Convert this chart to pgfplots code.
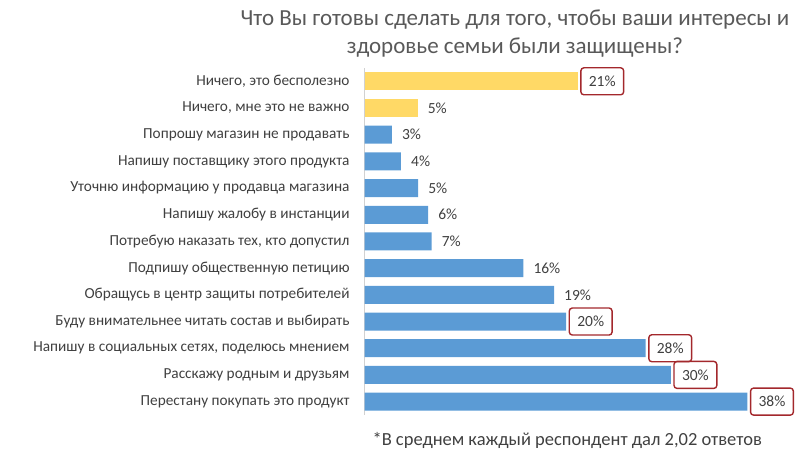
\documentclass[border=0pt]{standalone}
\usepackage{pgfplots}
\pgfplotsset{compat=1.18}
\usepackage{fontspec}
\setmainfont{Carlito}
\definecolor{barY}{HTML}{FFD966}
\definecolor{barB}{HTML}{5B9BD5}
\definecolor{boxR}{HTML}{A3282C}
\definecolor{txt}{HTML}{404040}
\definecolor{ttl}{HTML}{595959}
\begin{document}
\begin{tikzpicture}
\path[use as bounding box] (0pt,0pt) rectangle (800pt,456pt);
\node[ttl, align=center, font=\fontsize{23}{28}\selectfont] at (515pt,422pt) {Что Вы готовы сделать для того, чтобы ваши интересы и\\здоровье семьи были защищены?};
\node[txt, anchor=west, font=\fontsize{18.5}{22}\selectfont] at (369pt,16pt) {*В среднем каждый респондент дал 2,02 ответов};
\begin{axis}[
  at={(364.7pt,54.4pt)}, anchor=origin,
  scale only axis, width=433pt, height=347pt,
  xmin=0, xmax=43, ymin=-0.5, ymax=12.5,
  clip=false,
  xbar, bar width=18pt,
  axis x line=none, axis y line=left,
  axis line style={-, draw=black!18, line width=0.8pt},
  major tick length=0pt,
  ytick={0,...,12},
  yticklabels={Перестану покупать это продукт, Расскажу родным и друзьям, {Напишу в социальных сетях, поделюсь мнением}, Буду внимательнее читать состав и выбирать, Обращусь в центр защиты потребителей, Подпишу общественную петицию, {Потребую наказать тех, кто допустил}, Напишу жалобу в инстанции, Уточню информацию у продавца магазина, Напишу поставщику этого продукта, Попрошу магазин не продавать, {Ничего, мне это не важно}, {Ничего, это бесполезно}},
  yticklabel style={txt, font=\fontsize{15.3}{18}\selectfont, anchor=east, inner xsep=0pt, xshift=-15pt},
  point meta=explicit symbolic,
  nodes near coords,
  every node near coord/.append style={txt, font=\fontsize{15.5}{18}\selectfont, anchor=west},
  plain/.style={nodes near coords style={inner xsep=0pt, xshift=10pt}},
  boxed/.style={nodes near coords style={draw=boxR, line width=1.4pt, rounded corners=3pt, inner xsep=8pt, minimum height=27pt, xshift=2.5pt}},
]
\addplot[fill=barY, draw=none, bar shift=0pt, boxed] coordinates {(21.15,12) [21\%]};
\addplot[fill=barY, draw=none, bar shift=0pt, plain] coordinates {(5.25,11) [5\%]};
\addplot[fill=barB, draw=none, bar shift=0pt, plain] coordinates {
  (2.7,10) [3\%] (3.6,9) [4\%] (5.3,8) [5\%] (6.3,7) [6\%] (6.65,6) [7\%] (15.75,5) [16\%] (18.8,4) [19\%]};
\addplot[fill=barB, draw=none, bar shift=0pt, boxed] coordinates {
  (20.0,3) [20\%] (27.9,2) [28\%] (30.4,1) [30\%] (38.0,0) [38\%]};
\end{axis}
\end{tikzpicture}
\end{document}
